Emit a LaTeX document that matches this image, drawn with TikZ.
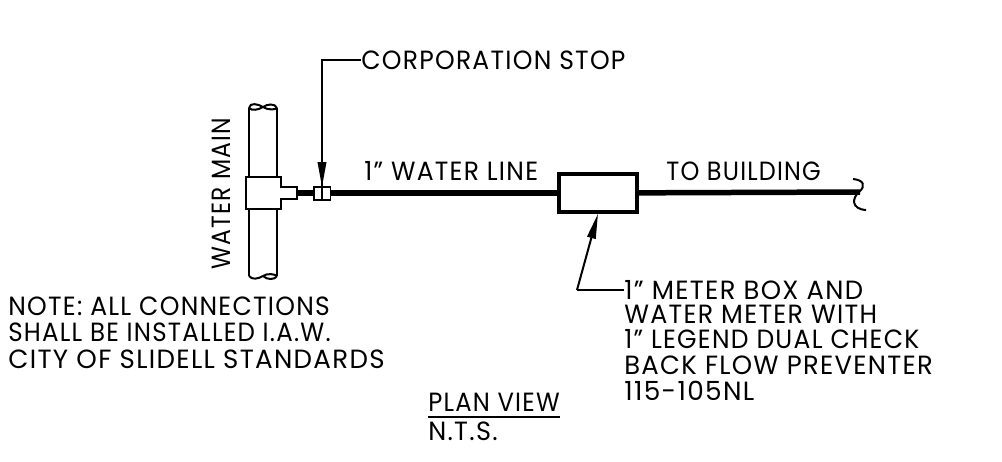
\documentclass[tikz,border=0pt]{standalone}
\usepackage{fontspec}
\setmainfont{Poppins}[LetterSpace=5]
\usepackage{tikz}
\usetikzlibrary{arrows.meta}
\newcommand{\narrow}[2]{\scalebox{#1}[1]{#2}}
\tikzset{
  lbl/.style={anchor=west,inner sep=0pt,font=\fontsize{15}{15}\selectfont},
  pipe/.style={line width=.11cm},
  thinline/.style={line width=.04cm},
  leader/.style={line width=.04cm},
  tip/.style={line width=.04cm,-{Triangle[length=.5cm,width=.17cm]}}
}
\begin{document}
\begin{tikzpicture}[x=.02cm,y=-.02cm]
\useasboundingbox (0,0) rectangle (1002,461);
% water main
\draw[thinline] (249,108) -- (249,276);
\draw[thinline] (277,108) -- (277,276);
\draw[thinline] (249,108) .. controls (250,102) and (258,104) .. (263,107) .. controls (267,110) and (276,110) .. (277,108);
\draw[thinline] (249,108) .. controls (252,111) and (258,110) .. (263,107) .. controls (267,104) and (275,103) .. (277,108);
\draw[thinline] (249,276) .. controls (252,280) and (258,279) .. (263,276) .. controls (267,273) and (275,274) .. (277,276);
\draw[thinline] (263,276) .. controls (267,280) and (275,280) .. (277,276);
\node[lbl,anchor=center,rotate=90] (mainlbl) at (221,194) {\narrow{.89}{WATER MAIN}};
% tee
\draw[thinline,fill=white] (246,177) -- (281,177) -- (281,187) -- (297,187) -- (297,199) -- (281,199) -- (281,209) -- (246,209) -- cycle;
% water line
\coordinate (teeend) at (297,193);
\node[draw,line width=.04cm,fill=white,minimum width=.34cm,minimum height=.26cm,inner sep=0pt] (corp) at (322,193) {};
\node[draw,line width=.07cm,fill=white,minimum width=1.56cm,minimum height=.76cm,inner sep=0pt] (meter) at (598,193) {};
\coordinate (lineend) at (860,192);
\draw[pipe] (teeend) -- (corp);
\draw[pipe] (corp) -- (meter);
\draw[pipe] (meter) -- (lineend);
\draw[thinline] (853,179) .. controls (864,180) and (866,186) .. (859,192) .. controls (852,198) and (851,209) .. (866,210);
% labels
\node[lbl] (stop) at (361,60) {\narrow{.95}{CORPORATION STOP}};
\node[lbl] (wline) at (364,171) {\narrow{.95}{1" WATER LINE}};
\node[lbl] (bldg) at (666,171) {\narrow{.91}{TO BUILDING}};
\node[lbl] (box) at (624,290) {\narrow{.98}{1" METER BOX AND}};
\node[lbl] (boxb) at (624,314) {\narrow{.96}{WATER METER WITH}};
\node[lbl] (boxc) at (624,339) {\narrow{.95}{1" LEGEND DUAL CHECK}};
\node[lbl] (boxd) at (624,365) {\narrow{.98}{BACK FLOW PREVENTER}};
\node[lbl] (boxe) at (624,391) {115-105NL};
\node[lbl] (notea) at (8,306) {\narrow{.95}{NOTE: ALL CONNECTIONS}};
\node[lbl] (noteb) at (8,332) {\narrow{.93}{SHALL BE INSTALLED I.A.W.}};
\node[lbl] (notec) at (8,359) {\narrow{.99}{CITY OF SLIDELL STANDARDS}};
\node[lbl] (plan) at (428,402) {\narrow{.92}{PLAN VIEW}};
\node[lbl] (nts) at (428,431) {\narrow{.97}{N.T.S.}};
\draw[thinline] (plan.west |- 0,417) -- (560,417);
% leaders
\coordinate (stopbend) at (322,60);
\coordinate (stopend) at (322,201);
\coordinate (stoptip) at (322,187);
\coordinate (boxbend) at (577,290);
\draw[leader] (stop.west) -- (stopbend) -- (stopend);
\draw[tip] (stopbend) -- (stoptip);
\draw[leader] (box.west) -- (boxbend);
\draw[tip] (boxbend) -- (meter.south);
\end{tikzpicture}
\end{document}
